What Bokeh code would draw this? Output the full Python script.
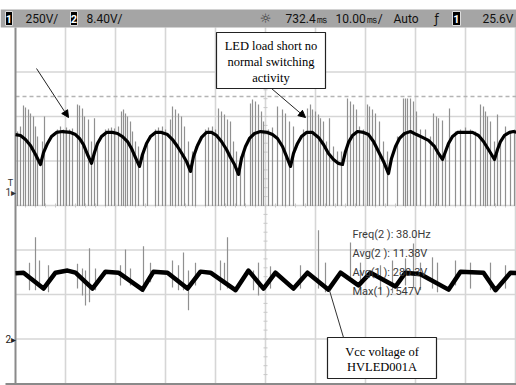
from bokeh.plotting import figure
from bokeh.models import Range1d, Arrow, NormalHead, Label
from bokeh.embed import file_html
from bokeh.resources import INLINE

# ---------------- scope settings ----------------
TIME_PER_DIV = 10.0      # ms / div
CH1_V_PER_DIV = 250.0    # V / div
CH2_V_PER_DIV = 8.40     # V / div
CH1_GROUND_DIV = 4.27    # ground marker position (divisions from bottom)
CH2_GROUND_DIV = 0.99

header_ch1 = "250V/"
header_ch2 = "8.40V/"
header_delay = "732.4\u33b3"
header_timebase = "10.00\u33b3/"
header_mode = "Auto"
header_trig = "25.6V"
measure_labels = ["Freq(2 ): 38.0Hz", "Avg(2 ): 11.38V", "Avg(1 ): 280.3V", "Max(1 ): 547V"]
note1_lines = ["LED load short no", "normal switching", "activity"]
note2_lines = ["Vcc voltage of", "HVLED001A"]

# ---------------- channel 1 (HV node) ----------------
ch1_t = [0.0, 1.0, 2.0, 3.0, 4.0, 5.0,
         5.6, 6.4, 7.2, 8.2, 9.4, 11.0, 12.0, 12.8, 13.6, 14.4, 15.2,
         15.8, 16.4, 17.2, 18.2, 19.4, 20.4, 21.4, 22.4, 23.2, 24.0, 24.8,
         25.4, 26.2, 27.0, 28.0, 29.2, 30.4, 31.4, 32.4, 33.4, 34.2, 35.0,
         35.6, 36.4, 37.2, 38.2, 39.2, 40.2, 41.2, 42.2, 43.0, 43.8, 44.6,
         45.2, 46.0, 46.8, 47.8, 49.0, 50.4, 51.4, 52.4, 53.4, 54.2, 55.0,
         55.6, 56.4, 57.2, 58.2, 59.4, 60.6, 61.6, 62.6, 63.6, 64.6, 65.4,
         66.0, 66.6, 67.4, 68.4, 69.6, 70.6, 71.6, 72.6, 73.6, 74.6,
         75.2, 76.0, 76.8, 77.8, 79.0, 80.2, 81.4, 82.6, 83.8, 84.6, 85.4,
         86.0, 86.6, 87.4, 88.4, 90.0, 91.4, 92.6, 93.6, 94.6, 95.2, 95.8,
         96.4, 97.0, 97.8, 98.8, 99.6, 100.4]
ch1_v = [331, 326, 303, 270, 219, 163,
         230, 281, 320, 343, 348, 343, 331, 309, 275, 219, 169,
         230, 281, 320, 343, 343, 337, 320, 292, 253, 202, 152,
         219, 281, 320, 343, 343, 331, 303, 264, 219, 180, 124,
         208, 270, 315, 343, 343, 326, 292, 247, 202, 163, 107,
         197, 264, 309, 337, 348, 343, 331, 309, 264, 208, 152,
         225, 281, 320, 343, 343, 315, 275, 225, 191, 169, 163,
         236, 287, 326, 348, 343, 331, 292, 236, 180, 112,
         197, 264, 309, 337, 348, 331, 315, 298, 264, 225, 191,
         236, 281, 320, 343, 343, 343, 326, 292, 247, 219, 191,
         247, 292, 326, 343, 348, 343]

ch1_spike_t = [0.4, 1.0, 1.6, 2.0, 2.6, 3.0, 3.6, 4.0, 4.4, 5.4, 5.8,
               8.4, 9.0, 9.6, 10.2, 10.8, 11.4, 12.4, 12.8, 13.4, 13.8, 14.6, 15.2, 15.8, 16.4,
               18.0, 18.6, 19.2, 19.8, 20.6, 21.2, 21.6, 22.0, 22.4, 23.0, 23.4, 24.0, 24.6, 25.6, 26.4,
               28.0, 28.6, 29.4, 30.0, 31.0, 31.4, 32.0, 32.6, 33.2, 33.8, 34.6, 35.4, 36.0,
               38.0, 38.6, 39.4, 40.0, 40.6, 41.2, 41.8, 42.4, 43.0, 43.6, 44.2, 45.0, 45.8,
               47.0, 47.4, 48.0, 48.6, 49.2, 49.6, 50.6, 51.4, 52.4, 53.4, 54.0, 54.8, 55.6,
               57.6, 58.4, 59.0, 59.4, 60.0, 60.6, 61.0, 61.6, 62.2, 62.8, 63.6, 64.4, 65.2,
               66.4, 67.0, 67.6, 68.2, 68.8, 69.6, 70.4, 70.8, 71.4, 72.0, 72.8, 73.6, 74.4,
               76.4, 77.6, 78.0, 78.4, 79.0, 79.6, 80.2, 81.0, 82.0, 83.0, 83.6, 84.2, 84.6, 85.4, 86.0, 86.8,
               88.0, 89.0, 90.0, 91.0, 92.0, 93.0, 93.6, 94.0, 94.4, 95.0, 95.8, 96.4, 97.0, 98.0, 99.0, 99.8]
ch1_spike_top = [348, 377, 495, 483, 472, 450, 433, 377, 320, 292, 433,
                 360, 377, 360, 371, 360, 365, 500, 495, 478, 433, 416, 292, 422, 292,
                 360, 365, 371, 365, 377, 461, 472, 450, 433, 405, 348, 292, 264, 236, 292,
                 360, 371, 377, 360, 416, 489, 472, 450, 433, 377, 292, 236, 264,
                 360, 371, 377, 360, 478, 461, 444, 416, 405, 292, 236, 208, 236,
                 506, 528, 517, 500, 461, 405, 360, 371, 489, 472, 450, 405, 377,
                 360, 478, 500, 472, 461, 444, 422, 405, 292, 422, 264, 236, 236,
                 534, 517, 500, 472, 377, 360, 500, 489, 472, 450, 405, 292, 236,
                 320, 534, 534, 534, 534, 517, 461, 360, 360, 320, 450, 433, 422, 410, 236, 478,
                 348, 360, 371, 360, 348, 500, 489, 461, 433, 405, 292, 444, 292, 377, 348, 360]
ch1_spike_low = -70

# ---------------- channel 2 (Vcc) ----------------
ch2_t = [0.0, 1.6, 5.6, 8.0, 10.4, 12.0, 15.4, 18.0, 20.6, 25.4, 27.6, 30.4, 34.4, 37.0,
         39.0, 44.0, 46.6, 49.6, 52.0, 55.6, 58.4, 62.6, 65.0, 68.6, 71.0, 76.0, 78.0, 81.0,
         86.6, 89.0, 93.6, 96.0, 99.0, 100.4]
ch2_v = [12.5, 12.6, 9.6, 12.6, 13.0, 12.6, 9.6, 12.8, 12.6, 9.4, 12.8, 12.6, 9.6, 12.8,
         12.6, 9.3, 13.0, 9.6, 12.6, 9.6, 12.6, 9.4, 12.6, 10.2, 12.6, 10.0, 12.6, 12.3,
         9.4, 12.8, 12.6, 9.3, 12.6, 12.5]

ch2_spike_t = [2.8, 4.0, 4.8, 6.6, 12.4, 13.4, 14.0, 14.8, 16.0, 21.0, 22.0, 23.0, 25.6, 27.0,
               31.4, 32.6, 33.6, 34.6, 36.0, 41.0, 41.8, 42.4, 47.6, 48.6, 51.0, 57.0, 60.6,
               62.0, 67.0, 69.0, 73.0, 75.4, 78.0, 79.6, 81.0, 83.4, 84.4, 88.0, 91.0, 95.0, 98.0]
ch2_spike_top = [14.5, 19.3, 14.9, 14.0, 14.3, 13.4, 13.0, 17.2, 13.4, 14.0, 17.0, 13.4, 17.6, 14.5,
                 14.9, 14.0, 16.4, 13.0, 14.5, 14.9, 14.5, 19.3, 13.0, 14.5, 13.8, 14.0, 20.6,
                 14.5, 18.3, 14.5, 14.0, 14.9, 15.3, 18.1, 14.5, 15.5, 14.5, 14.9, 14.5, 14.5, 14.0]
ch2_spike_low = [9.3, 9.3, 9.8, 8.9, 9.6, 8.3, 6.4, 7.0, 9.3, 10.2, 12.1, 10.2, 8.9, 10.8,
                 9.8, 9.3, 9.3, 5.5, 10.2, 9.3, 10.6, 9.6, 9.3, 8.3, 9.6, 9.6, 9.6,
                 8.9, 11.7, 9.3, 9.3, 8.7, 10.2, 9.8, 9.3, 9.6, 8.9, 10.2, 9.6, 9.3, 9.6]

# ---------------- screen geometry (pixels of the screenshot) ----------------
W, H = 516, 385
GRID_LEFT, GRID_TOP = 15, 27
PX_PER_XDIV, PX_PER_YDIV = 50.0, 44.5
N_XDIV, N_YDIV = 10, 8
GRID_BOTTOM = GRID_TOP + N_YDIV * PX_PER_YDIV

def t_of_px(px):
    return (px - GRID_LEFT) / PX_PER_XDIV * TIME_PER_DIV

def div_of_py(py):
    return (GRID_BOTTOM - py) / PX_PER_YDIV

p = figure(width=W, height=H, output_backend="svg", toolbar_location=None,
           x_range=Range1d(0, W), y_range=Range1d(H, 0),
           x_axis_location=None, y_axis_location=None, min_border=0,
           background_fill_color="white", border_fill_color="white")
p.outline_line_color = None
p.grid.visible = False
p.extra_x_ranges = {"t": Range1d(t_of_px(0), t_of_px(W))}
p.extra_y_ranges = {
    "ch1": Range1d((div_of_py(H) - CH1_GROUND_DIV) * CH1_V_PER_DIV,
                   (div_of_py(0) - CH1_GROUND_DIV) * CH1_V_PER_DIV),
    "ch2": Range1d((div_of_py(H) - CH2_GROUND_DIV) * CH2_V_PER_DIV,
                   (div_of_py(0) - CH2_GROUND_DIV) * CH2_V_PER_DIV),
}

# ---------------- graticule ----------------
GRID_C = "#d6d6d6"
vx = [GRID_LEFT + k * PX_PER_XDIV for k in range(1, N_XDIV + 1)]
p.segment(x0=vx, y0=[GRID_TOP] * len(vx), x1=vx, y1=[GRID_BOTTOM] * len(vx),
          line_color=GRID_C, line_width=1.6)
hy = [GRID_TOP + k * PX_PER_YDIV for k in range(1, N_YDIV)]
p.segment(x0=[GRID_LEFT] * len(hy), y0=hy, x1=[W] * len(hy), y1=hy,
          line_color=GRID_C, line_width=1.6)
# minor ticks on the centre axes
cx = GRID_LEFT + 5 * PX_PER_XDIV
cy = GRID_TOP + 4 * PX_PER_YDIV
ty = [GRID_TOP + k * PX_PER_YDIV / 5 for k in range(1, N_YDIV * 5)]
p.segment(x0=[cx - 2] * len(ty), y0=ty, x1=[cx + 2] * len(ty), y1=ty, line_color="#c8c8c8", line_width=1)
tx = [GRID_LEFT + k * PX_PER_XDIV / 5 for k in range(1, N_XDIV * 5)]
p.segment(x0=tx, y0=[cy - 2] * len(tx), x1=tx, y1=[cy + 2] * len(tx), line_color="#c8c8c8", line_width=1)
# trigger level (dashed)
p.line(x=[GRID_LEFT, W], y=[96, 96], line_color="#b4b4b4", line_width=1.3, line_dash="4 3")
# frame borders
p.line(x=[GRID_LEFT, GRID_LEFT], y=[GRID_TOP, GRID_BOTTOM], line_color="#8a8a8a", line_width=2)
p.line(x=[GRID_LEFT - 10, W], y=[GRID_BOTTOM + 0.5, GRID_BOTTOM + 0.5], line_color="#8a8a8a", line_width=2)

# ---------------- header bar ----------------
p.quad(left=[0], right=[W], top=[9], bottom=[GRID_TOP], fill_color="#a5a5a5", line_color=None)
p.quad(left=[5, 70, 452], right=[12, 77, 460], top=[11, 11, 11], bottom=[25, 25, 25],
       fill_color="black", line_color="#dddddd", line_width=1)
HF = "Roboto"
for x, txt in [(8.5, "1"), (73.5, "2"), (456, "1")]:
    p.add_layout(Label(x=x, y=18.5, text=txt, text_font=HF, text_font_size="11px", text_font_style="bold",
                       text_color="white", text_align="center", text_baseline="middle"))
for x, txt in [(25, header_ch1), (86, header_ch2), (285, header_delay), (335, header_timebase),
               (393, header_mode)]:
    p.add_layout(Label(x=x, y=18.5, text=txt, text_font=HF, text_font_size="12px",
                       text_color="#111111", text_align="left", text_baseline="middle"))
p.add_layout(Label(x=513, y=18.5, text=header_trig, text_font=HF, text_font_size="12px",
                   text_color="#111111", text_align="right", text_baseline="middle"))
p.add_layout(Label(x=265, y=18, text="\u263c", text_font="DejaVu Sans", text_font_size="13px",
                   text_color="#333333", text_align="center", text_baseline="middle"))
p.add_layout(Label(x=436, y=18.5, text="\u0192", text_font="DejaVu Sans", text_font_size="12px",
                   text_color="#111111", text_align="center", text_baseline="middle"))

# ---------------- measurements ----------------
for i, txt in enumerate(measure_labels):
    p.add_layout(Label(x=352, y=234 + i * 19, text=txt, text_font=HF, text_font_size="11px",
                       text_color="#3a3a3a", text_align="left", text_baseline="middle"))

# ---------------- waveforms ----------------
p.segment(x0=ch1_spike_t, y0=[ch1_spike_low] * len(ch1_spike_t), x1=ch1_spike_t, y1=ch1_spike_top,
          x_range_name="t", y_range_name="ch1", line_color="#909090", line_width=1.2)
p.segment(x0=ch2_spike_t, y0=ch2_spike_low, x1=ch2_spike_t, y1=ch2_spike_top,
          x_range_name="t", y_range_name="ch2", line_color="#909090", line_width=1.2)
p.line(ch1_t, ch1_v, x_range_name="t", y_range_name="ch1", line_color="black", line_width=3.2,
       line_join="round")
p.line(ch2_t, ch2_v, x_range_name="t", y_range_name="ch2", line_color="black", line_width=4.5,
       line_join="round")

# ground markers
p.add_layout(Label(x=10, y=182, text="T", text_font=HF, text_font_size="9px", text_color="#333333",
                   text_align="center", text_baseline="middle"))
p.add_layout(Label(x=5, y=192, text="1\u25b8", text_font=HF, text_font_size="10px", text_color="#333333",
                   text_align="left", text_baseline="middle"))
p.add_layout(Label(x=5, y=339, text="2\u25b8", text_font=HF, text_font_size="10px", text_color="#222222",
                   text_align="left", text_baseline="middle"))

# ---------------- annotations ----------------
SERIF = "Liberation Serif"
p.quad(left=[216], right=[325], top=[32], bottom=[88], fill_color="white", line_color="#222222", line_width=1.2)
for i, txt in enumerate(note1_lines):
    p.add_layout(Label(x=270.5, y=45 + i * 16, text=txt, text_font=SERIF, text_font_size="12.5px",
                       text_color="black", text_align="center", text_baseline="middle"))
p.quad(left=[327], right=[436], top=[337], bottom=[378], fill_color="white", line_color="#222222", line_width=1.2)
for i, txt in enumerate(note2_lines):
    p.add_layout(Label(x=381.5, y=351 + i * 15, text=txt, text_font=SERIF, text_font_size="12.5px",
                       text_color="black", text_align="center", text_baseline="middle"))
p.add_layout(Arrow(end=NormalHead(size=7, fill_color="black", line_color="black"),
                   x_start=36, y_start=68, x_end=68, y_end=117, line_width=1, line_color="#222222"))
p.add_layout(Arrow(end=NormalHead(size=7, fill_color="black", line_color="black"),
                   x_start=271, y_start=88, x_end=305, y_end=117, line_width=1, line_color="#222222"))
p.line(x=[343, 329], y=[337, 290], line_color="#333333", line_width=1)

open("out.html", "w").write(file_html(p, INLINE))
